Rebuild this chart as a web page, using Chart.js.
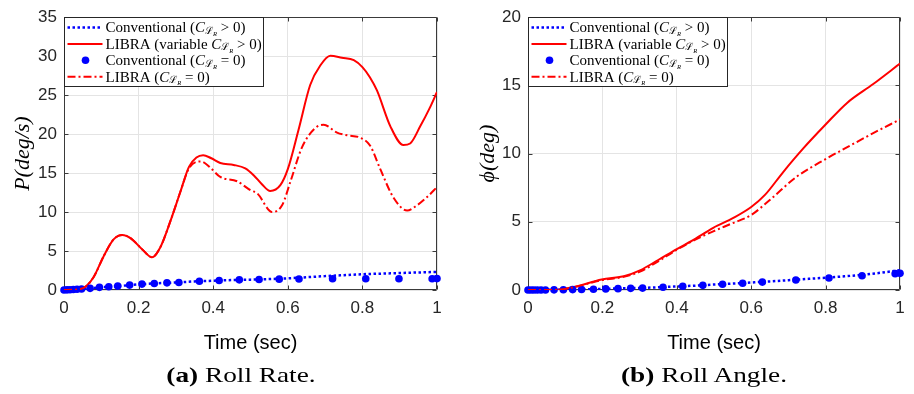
<!DOCTYPE html>
<html>
<head>
<meta charset="utf-8">
<script src="https://cdn.jsdelivr.net/npm/chart.js@4.4.0/dist/chart.umd.min.js"></script>
<style>
  body { margin: 0; background: #fff; width: 914px; height: 394px; position: relative; overflow: hidden; }
  canvas { position: absolute; top: 0; }
  .cap { position: absolute; top: 362px; font: 22px "Liberation Serif", serif; white-space: nowrap; transform: translateX(-50%) scaleX(1.24); color: #000; }
</style>
</head>
<body>
<canvas id="rate" width="457" height="394" style="left:0"></canvas>
<canvas id="angle" width="457" height="394" style="left:457px"></canvas>
<div class="cap" style="left:241px"><b>(a)</b> Roll Rate.</div>
<div class="cap" style="left:704px"><b>(b)</b> Roll Angle.</div>
<script>
// solver output times for the conventional (C_LR = 0) markers
const dotTime = [0, 0.008, 0.016, 0.025, 0.035, 0.047, 0.070, 0.095, 0.120, 0.144, 0.176, 0.209, 0.242, 0.276, 0.308, 0.363, 0.416, 0.470, 0.523, 0.577, 0.630, 0.720, 0.809, 0.898, 0.987, 1.0];
const rateDots = [0, 0.02, 0.04, 0.06, 0.09, 0.13, 0.21, 0.34, 0.42, 0.50, 0.63, 0.76, 0.84, 0.92, 0.97, 1.13, 1.22, 1.30, 1.35, 1.39, 1.42, 1.44, 1.45, 1.45, 1.45, 1.46];
const angleDots = [0, 0, 0, 0, 0, 0, 0.01, 0.02, 0.03, 0.04, 0.06, 0.08, 0.10, 0.12, 0.14, 0.20, 0.27, 0.34, 0.42, 0.50, 0.58, 0.73, 0.88, 1.04, 1.20, 1.22];

// conventional (C_LR > 0)
const convTime = [0, 0.05, 0.1, 0.15, 0.2, 0.25, 0.3, 0.35, 0.4, 0.45, 0.5, 0.55, 0.6, 0.65, 0.7, 0.75, 0.8, 0.85, 0.9, 0.95, 1];
const rateConv = [0, 0.13, 0.35, 0.52, 0.72, 0.86, 0.96, 1.1, 1.19, 1.27, 1.33, 1.4, 1.5, 1.64, 1.78, 1.9, 2.02, 2.1, 2.18, 2.25, 2.32];
const angleConv = [0, 0.01, 0.02, 0.05, 0.08, 0.12, 0.15, 0.2, 0.26, 0.32, 0.4, 0.47, 0.55, 0.63, 0.72, 0.81, 0.9, 1.0, 1.12, 1.27, 1.45];

// LIBRA, variable C_LR > 0
const rateLibraTime = [0, 0.02, 0.044, 0.06, 0.08, 0.107, 0.133, 0.156, 0.18, 0.21, 0.236, 0.258, 0.285, 0.312, 0.335, 0.355, 0.373, 0.395, 0.419, 0.455, 0.486, 0.509, 0.53, 0.553, 0.58, 0.6, 0.629, 0.66, 0.687, 0.714, 0.745, 0.777, 0.8, 0.82, 0.839, 0.875, 0.91, 0.928, 0.955, 0.98, 1];
const rateLibra = [0, 0.03, 0.12, 0.5, 1.7, 4.4, 6.5, 7.06, 6.6, 5.2, 4.2, 5.46, 8.8, 12.6, 15.8, 17.0, 17.3, 16.9, 16.3, 16.05, 15.6, 14.7, 13.6, 12.7, 13.45, 15.5, 20.6, 26.3, 28.8, 30.05, 29.8, 29.5, 28.6, 27.3, 25.6, 21.0, 18.6, 18.8, 21.0, 23.3, 25.4];
const angleLibraTime = [0, 0.05, 0.081, 0.126, 0.198, 0.26, 0.301, 0.35, 0.4, 0.44, 0.498, 0.552, 0.6, 0.637, 0.686, 0.74, 0.8, 0.857, 0.928, 1];
const angleLibra = [0, 0, 0.02, 0.24, 0.77, 1.03, 1.44, 2.2, 3.0, 3.6, 4.56, 5.28, 6.08, 6.97, 8.65, 10.38, 12.13, 13.7, 15.1, 16.6];

// LIBRA, C_LR = 0
const rateLibra0Time = [0, 0.02, 0.044, 0.06, 0.08, 0.107, 0.133, 0.156, 0.18, 0.21, 0.236, 0.258, 0.285, 0.312, 0.335, 0.366, 0.39, 0.419, 0.464, 0.5, 0.518, 0.558, 0.585, 0.607, 0.638, 0.674, 0.696, 0.732, 0.759, 0.794, 0.821, 0.848, 0.884, 0.92, 0.946, 0.975, 1];
const rateLibra0 = [0, 0.03, 0.12, 0.5, 1.7, 4.4, 6.5, 7.06, 6.6, 5.2, 4.2, 5.46, 8.8, 12.6, 15.6, 16.5, 15.8, 14.5, 13.95, 12.8, 12.4, 10.0, 10.9, 13.9, 18.3, 20.8, 21.2, 20.2, 19.85, 19.55, 18.5, 15.5, 11.8, 10.2, 10.85, 12.0, 13.2];
const angleLibra0Time = [0, 0.05, 0.081, 0.126, 0.198, 0.26, 0.301, 0.35, 0.4, 0.45, 0.498, 0.55, 0.6, 0.65, 0.722, 0.8, 0.857, 0.928, 1];
const angleLibra0 = [0, 0, 0.02, 0.22, 0.72, 0.98, 1.35, 2.1, 2.95, 3.7, 4.3, 4.9, 5.5, 6.6, 8.3, 9.6, 10.45, 11.5, 12.5];

const xTicks = [0, 0.2, 0.4, 0.6, 0.8, 1];

const BLUE = '#0000ff';
const RED = '#ff0000';
const SERIF = '"Liberation Serif", serif';

const pts = (xs, ys) => xs.map((x, i) => ({ x: x, y: ys[i] }));

// legend text: "<prefix>C_{L_R}<suffix>"
function coeffText(prefix, suffix) {
  return [
    { t: prefix, f: '15px ' + SERIF, dy: 0 },
    { t: 'C', f: 'italic 15px ' + SERIF, dy: 0 },
    { t: '\u2112', f: '10px "DejaVu Serif", serif', dy: 3 },
    { t: 'R', f: 'italic 6.5px ' + SERIF, dy: 6 },
    { t: suffix, f: '15px ' + SERIF, dy: 0 }
  ];
}

const legendRows = [
  { kind: 'dotted', parts: coeffText('Conventional (', ' > 0)') },
  { kind: 'solid', parts: coeffText('LIBRA (variable ', ' > 0)') },
  { kind: 'dot', parts: coeffText('Conventional (', ' = 0)') },
  { kind: 'dashdot', parts: coeffText('LIBRA (', ' = 0)') }
];

function partsWidth(ctx, parts) {
  let w = 0;
  parts.forEach(p => { ctx.font = p.f; w += ctx.measureText(p.t).width; });
  return w;
}

// axes box, inward ticks and the boxed legend in the upper-left corner
const frame = {
  id: 'frame',
  beforeDatasetsDraw(chart) {
    const { ctx, chartArea: a, scales: { x, y } } = chart;
    const L = Math.round(a.left) + 0.5, R = Math.round(a.right) - 0.5;
    const T = Math.round(a.top) + 0.5, B = Math.round(a.bottom) - 0.5;
    ctx.save();
    ctx.strokeStyle = '#3a3a3a';
    ctx.lineWidth = 1;
    ctx.beginPath();
    x.ticks.forEach(t => {
      const px = Math.round(x.getPixelForValue(t.value)) + 0.5;
      ctx.moveTo(px, B); ctx.lineTo(px, B - 4);
      ctx.moveTo(px, T); ctx.lineTo(px, T + 4);
    });
    y.ticks.forEach(t => {
      const py = Math.round(y.getPixelForValue(t.value)) + 0.5;
      ctx.moveTo(L, py); ctx.lineTo(L + 4, py);
      ctx.moveTo(R, py); ctx.lineTo(R - 4, py);
    });
    ctx.rect(L, T, R - L, B - T);
    ctx.stroke();
    ctx.restore();
  },
  afterDatasetsDraw(chart) {
    const { ctx, chartArea: a } = chart;
    const left = Math.round(a.left) + 0.5, top = Math.round(a.top) + 0.5;
    let w = 0;
    legendRows.forEach(r => { w = Math.max(w, partsWidth(ctx, r.parts)); });
    const boxW = Math.round(41 + w + 2), boxH = 69;
    ctx.save();
    ctx.fillStyle = '#fff';
    ctx.strokeStyle = '#262626';
    ctx.lineWidth = 1;
    ctx.fillRect(left, top, boxW, boxH);
    ctx.strokeRect(left, top, boxW, boxH);
    legendRows.forEach((r, i) => {
      const cy = top + 10 + i * 16.4;
      const x0 = left + 3, x1 = left + 38;
      ctx.beginPath();
      if (r.kind === 'dot') {
        ctx.fillStyle = BLUE;
        ctx.arc(left + 21, cy, 3.8, 0, Math.PI * 2);
        ctx.fill();
      } else {
        ctx.strokeStyle = r.kind === 'dotted' ? BLUE : RED;
        ctx.lineWidth = r.kind === 'dotted' ? 2.5 : 2;
        ctx.setLineDash(r.kind === 'dotted' ? [2.5, 2.5] : r.kind === 'dashdot' ? [8, 3, 2, 3] : []);
        ctx.moveTo(x0, cy); ctx.lineTo(x1, cy);
        ctx.stroke();
        ctx.setLineDash([]);
      }
      let tx = left + 41;
      ctx.fillStyle = '#000';
      ctx.textBaseline = 'middle';
      r.parts.forEach(p => {
        ctx.font = p.f;
        ctx.fillText(p.t, tx, cy + 1 + p.dy);
        tx += ctx.measureText(p.t).width;
      });
    });
    ctx.restore();
  }
};

function makeChart(id, sets, yMax, yTitle, yWidth, titlePad, padRight) {
  return new Chart(document.getElementById(id), {
    type: 'line',
    data: {
      datasets: [
        { data: sets.libra0, borderColor: RED, borderWidth: 2, borderDash: [8, 3, 2, 3], pointRadius: 0, cubicInterpolationMode: 'monotone' },
        { data: sets.dots, showLine: false, pointRadius: 3.8, pointBackgroundColor: BLUE, pointBorderWidth: 0, clip: false },
        { data: sets.libra, borderColor: RED, borderWidth: 2, pointRadius: 0, cubicInterpolationMode: 'monotone' },
        { data: sets.conv, borderColor: BLUE, borderWidth: 2.5, borderDash: [2.5, 2.5], pointRadius: 0, cubicInterpolationMode: 'monotone' }
      ]
    },
    options: {
      responsive: false,
      animation: false,
      layout: { padding: { left: 0, right: padRight, top: 12.5, bottom: 34 } },
      plugins: { legend: { display: false }, tooltip: { enabled: false } },
      scales: {
        x: {
          type: 'linear', min: 0, max: 1,
          afterBuildTicks: s => { s.ticks = xTicks.map(v => ({ value: v })); },
          afterFit: s => { s.height = 70; },
          grid: { color: '#e4e4e4', drawTicks: false },
          border: { display: false },
          ticks: { padding: 8, color: '#262626', font: { family: 'Liberation Sans', size: 17 }, callback: v => String(+v.toFixed(1)) },
          title: { display: true, text: 'Time (sec)', color: '#000', font: { family: 'Liberation Sans', size: 20, lineHeight: 1 }, padding: { top: 0, bottom: 7 } }
        },
        y: {
          min: 0, max: yMax,
          afterFit: s => { s.width = yWidth; },
          grid: { color: '#e4e4e4', drawTicks: false },
          border: { display: false },
          ticks: { stepSize: 5, padding: 7, color: '#262626', font: { family: 'Liberation Sans', size: 17 } },
          title: { display: true, text: yTitle, color: '#000', font: { family: 'Liberation Serif', size: 22, style: 'italic', lineHeight: 1 }, padding: { top: titlePad, bottom: 0 } }
        }
      }
    },
    plugins: [frame]
  });
}

makeChart('rate', {
  libra0: pts(rateLibra0Time, rateLibra0),
  dots: pts(dotTime, rateDots),
  libra: pts(rateLibraTime, rateLibra),
  conv: pts(convTime, rateConv)
}, 35, 'P(deg/s)', 64, 12, 20);

makeChart('angle', {
  libra0: pts(angleLibra0Time, angleLibra0),
  dots: pts(dotTime, angleDots),
  libra: pts(angleLibraTime, angleLibra),
  conv: pts(convTime, angleConv)
}, 20, '\u03d5(deg)', 71, 20, 14);
</script>
</body>
</html>
